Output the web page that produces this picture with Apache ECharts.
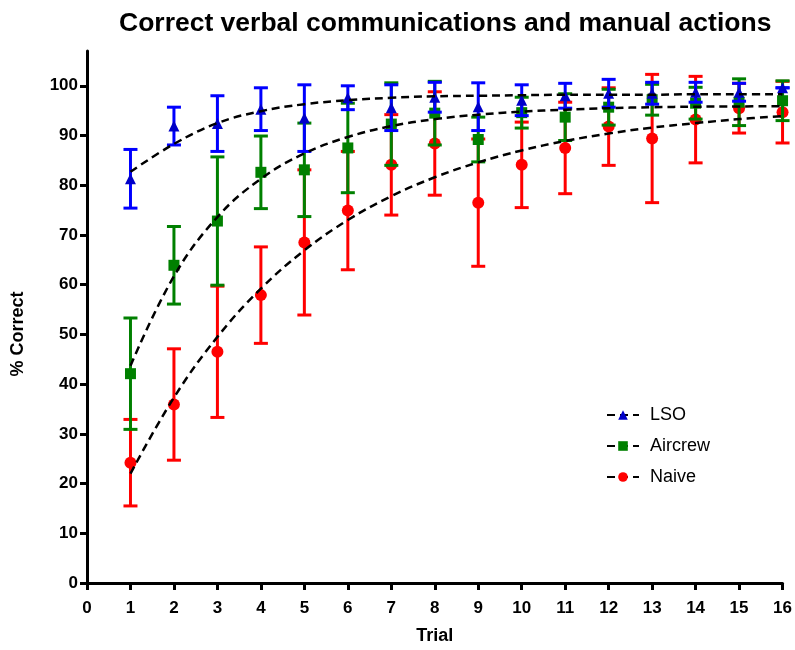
<!DOCTYPE html>
<html>
<head>
<meta charset="utf-8">
<script src="https://cdn.jsdelivr.net/npm/echarts@6/dist/echarts.min.js"></script>
<style>
  html, body { margin: 0; padding: 0; background: #fff; }
  #chart { width: 795px; height: 650px; }
</style>
</head>
<body>
<div id="chart"></div>
<script>
  // trials on the x axis
  const trials = [1, 2, 3, 4, 5, 6, 7, 8, 9, 10, 11, 12, 13, 14, 15, 16];
  const xTicks = [0, 1, 2, 3, 4, 5, 6, 7, 8, 9, 10, 11, 12, 13, 14, 15, 16];
  const yTicks = [0, 10, 20, 30, 40, 50, 60, 70, 80, 90, 100];

  // means and SD
  const lsoMean = [81.3, 91.9, 92.4, 95.3, 93.5, 97.6, 95.6, 97.7, 95.8, 97.1, 98.0, 98.5, 98.5, 98.7, 98.7, 99.6];
  const lsoSd = [5.9, 3.8, 5.6, 4.3, 6.7, 2.4, 4.6, 3.0, 4.8, 3.1, 2.5, 2.8, 2.2, 2.0, 1.8, 0];
  const aircrewMean = [42.1, 63.9, 72.8, 82.6, 83.1, 87.5, 92.3, 94.5, 89.2, 94.6, 93.7, 95.7, 97.2, 96.5, 96.7, 97.0];
  const aircrewSd = [11.2, 7.8, 12.9, 7.3, 9.4, 9.0, 8.3, 6.4, 4.5, 3.1, 4.7, 3.6, 3.1, 3.2, 4.7, 4.0];
  const naiveMean = [24.2, 35.9, 46.5, 57.9, 68.5, 74.9, 84.1, 88.4, 76.5, 84.1, 87.5, 91.8, 89.4, 93.2, 95.5, 94.7];
  const naiveSd = [8.7, 11.2, 13.2, 9.7, 14.6, 11.9, 10.1, 10.4, 12.8, 8.6, 9.2, 7.8, 12.9, 8.7, 5.0, 6.2];

  // fitted curves (dashed), read at each trial
  const lsoFit = [82.7, 88.3, 92.5, 94.9, 96.3, 97.1, 97.6, 97.9, 98.0, 98.1, 98.2, 98.2, 98.2, 98.3, 98.3, 98.3];
  const aircrewFit = [43.7, 61.7, 73.6, 81.3, 86.4, 89.7, 91.9, 93.3, 94.2, 94.8, 95.2, 95.5, 95.7, 95.8, 95.85, 95.9];
  const naiveFit = [22.0, 37.3, 49.5, 59.2, 66.9, 73.0, 77.8, 81.6, 84.6, 87.0, 88.9, 90.4, 91.6, 92.5, 93.3, 93.9];

  const FONT = 'Arial, "Liberation Sans", sans-serif';

  const pairs = (ys) => trials.map((t, i) => [t, ys[i]]);
  const bars = (m, s) => trials.map((t, i) => [t, m[i] - s[i], m[i] + s[i]]);

  const errorSeries = (name, m, s, color, z) => ({
    name: name + ' sd',
    type: 'custom',
    z: z,
    silent: true,
    data: bars(m, s),
    renderItem: (params, api) => {
      const lo = api.coord([api.value(0), api.value(1)]);
      const hi = api.coord([api.value(0), api.value(2)]);
      const w = 7;
      const st = { stroke: color, lineWidth: 3 };
      return {
        type: 'group',
        children: [
          { type: 'line', shape: { x1: lo[0], y1: lo[1], x2: hi[0], y2: hi[1] }, style: st },
          { type: 'line', shape: { x1: hi[0] - w, y1: hi[1], x2: hi[0] + w, y2: hi[1] }, style: st },
          { type: 'line', shape: { x1: lo[0] - w, y1: lo[1], x2: lo[0] + w, y2: lo[1] }, style: st },
        ],
      };
    },
  });

  const pointSeries = (name, m, symbol, size, color, z) => ({
    name: name + ' pts',
    type: 'scatter',
    z: z,
    symbol: symbol,
    symbolSize: size,
    itemStyle: { color: color, opacity: 1 },
    data: pairs(m),
  });

  const fitSeries = (name, f, symbol, color) => ({
    name: name,
    type: 'line',
    z: 10,
    smooth: 0.4,
    showSymbol: false,
    symbol: symbol,
    symbolSize: 10,
    itemStyle: { color: color },
    lineStyle: { color: '#000', width: 2.5, type: [8, 5] },
    data: pairs(f),
  });

  const chart = echarts.init(document.getElementById('chart'));

  const option = {
    animation: false,
    title: {
      text: 'Correct verbal communications and manual actions',
      left: 114,
      top: 5,
      textStyle: { fontFamily: FONT, fontSize: 26.5, fontWeight: 'bold', color: '#000' },
    },
    legend: {
      data: ['LSO', 'Aircrew', 'Naive'],
      orient: 'vertical',
      left: 601,
      top: 401,
      itemWidth: 32,
      itemHeight: 12,
      itemGap: 13,
      textStyle: { fontFamily: FONT, fontSize: 18, color: '#000', padding: [0, 0, 0, 6] },
    },
    grid: { left: 87, right: 12, top: 51, bottom: 64 },
    xAxis: {
      type: 'value',
      min: 0,
      max: 16,
      interval: 1,
      name: 'Trial',
      nameLocation: 'middle',
      nameGap: 44,
      nameTextStyle: { fontFamily: FONT, fontSize: 18, fontWeight: 'bold', color: '#000' },
      axisLine: { lineStyle: { color: '#000', width: 3 } },
      axisTick: { length: 7, lineStyle: { width: 3, color: '#000' }, customValues: xTicks },
      axisLabel: { fontFamily: FONT, fontSize: 17, fontWeight: 'bold', color: '#000', margin: 17, customValues: xTicks },
      splitLine: { show: false },
    },
    yAxis: {
      type: 'value',
      min: 0,
      max: 107,
      name: '% Correct',
      nameLocation: 'middle',
      nameGap: 60,
      nameTextStyle: { fontFamily: FONT, fontSize: 18, fontWeight: 'bold', color: '#000', padding: [0, 34, 0, 0] },
      axisLine: { show: true, lineStyle: { color: '#000', width: 3 } },
      axisTick: { show: true, length: 7, lineStyle: { width: 3, color: '#000' }, customValues: yTicks },
      axisLabel: { fontFamily: FONT, fontSize: 17, fontWeight: 'bold', color: '#000', margin: 9, customValues: yTicks },
      splitLine: { show: false },
    },
    series: [
      errorSeries('Naive', naiveMean, naiveSd, '#ff0000', 2),
      pointSeries('Naive', naiveMean, 'circle', 12, '#ff0000', 3),
      errorSeries('Aircrew', aircrewMean, aircrewSd, '#008000', 4),
      pointSeries('Aircrew', aircrewMean, 'rect', 11, '#008000', 5),
      errorSeries('LSO', lsoMean, lsoSd, '#0000ff', 6),
      pointSeries('LSO', lsoMean, 'triangle', 11, '#0000c8', 7),
      fitSeries('LSO', lsoFit, 'triangle', '#0000c8'),
      fitSeries('Aircrew', aircrewFit, 'rect', '#008000'),
      fitSeries('Naive', naiveFit, 'circle', '#ff0000'),
    ],
  };

  chart.setOption(option);
</script>
</body>
</html>
